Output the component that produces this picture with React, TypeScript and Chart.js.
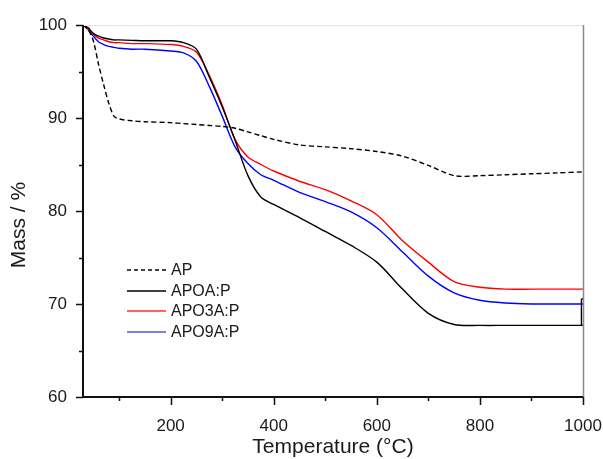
import React, { useEffect, useRef } from "react";
import { Chart, registerables } from "chart.js";

Chart.register(...registerables);

const temps = [30, 40, 50, 60, 70, 80, 90, 100, 125, 150, 200, 225, 250, 275, 300, 325, 350, 375, 400, 450, 500, 550, 600, 650, 700, 750, 800, 850, 900, 950, 1000];

const apValues = [100, 99.5, 98.3, 95.8, 93.6, 91.6, 90.2, 89.9, 89.7, 89.6, 89.5, 89.4, 89.3, 89.2, 89.1, 88.9, 88.5, 88.1, 87.7, 87.1, 86.9, 86.7, 86.4, 85.9, 84.9, 83.8, 83.8, 83.9, 84.0, 84.1, 84.2];
const apoaValues = [100, 99.7, 99.1, 98.8, 98.6, 98.5, 98.4, 98.4, 98.35, 98.3, 98.3, 98.1, 97.4, 94.4, 91.2, 87.6, 83.8, 81.5, 80.7, 79.3, 77.8, 76.3, 74.5, 71.6, 69.0, 67.8, 67.7, 67.7, 67.7, 67.7, 67.7];
const apo3aValues = [100, 99.6, 99.0, 98.6, 98.4, 98.2, 98.1, 98.1, 98.0, 98.0, 97.9, 97.7, 97.1, 94.6, 91.4, 87.7, 85.8, 85.0, 84.3, 83.2, 82.3, 81.1, 79.6, 76.8, 74.5, 72.4, 71.8, 71.6, 71.6, 71.6, 71.6];
const apo9aValues = [100, 99.5, 98.8, 98.2, 97.9, 97.7, 97.6, 97.5, 97.4, 97.4, 97.2, 97.0, 96.1, 93.4, 90.2, 86.9, 85.1, 83.9, 83.3, 82.0, 81.0, 79.9, 78.2, 75.6, 73.0, 71.2, 70.4, 70.1, 70.0, 70.0, 70.0];

// small artefact at the very end of the APOA:P curve
const apoaEndTemps = [997, 997, 1000];
const apoaEndValues = [67.7, 70.5, 70.6];

const seriesLabels = ["AP", "APOA:P", "APO3A:P", "APO9A:P"];
const seriesColors = ["#000000", "#000000", "#ff0000", "#0000ff"];
const legendColors = ["#000000", "#000000", "#ff3030", "#5555dd"];

const xMajorTicks = [200, 400, 600, 800, 1000];
const xMinorTicks = [100, 300, 500, 700, 900];
const yMajorTicks = [60, 70, 80, 90, 100];
const yMinorTicks = [65, 75, 85, 95];

const FONT = '"Liberation Sans", Arial, sans-serif';

function pts(xs: number[], ys: number[]) {
  return xs.map((x, i) => ({ x, y: ys[i] }));
}

const decorPlugin = {
  id: "decor",
  afterDatasetsDraw(chart: any) {
    const { ctx, chartArea } = chart;
    const xs = chart.scales.x;
    const ys = chart.scales.y;
    const { left, right, top, bottom } = chartArea;
    ctx.save();
    ctx.strokeStyle = "#e2e2e2";
    ctx.lineWidth = 1;
    ctx.beginPath();
    ctx.moveTo(left, top + 0.5);
    ctx.lineTo(right, top + 0.5);
    ctx.stroke();
    ctx.strokeStyle = "#8a8a8a";
    ctx.lineWidth = 1.5;
    ctx.beginPath();
    ctx.moveTo(right + 0.5, top);
    ctx.lineTo(right + 0.5, bottom);
    ctx.stroke();
    ctx.strokeStyle = "#111";
    ctx.lineWidth = 2;
    ctx.beginPath();
    ctx.moveTo(left, top);
    ctx.lineTo(left, bottom);
    ctx.lineTo(right, bottom);
    ctx.stroke();
    ctx.lineWidth = 1.5;
    ctx.beginPath();
    xMajorTicks.forEach((v) => {
      const p = Math.round(xs.getPixelForValue(v)) + 0.5;
      ctx.moveTo(p, bottom);
      ctx.lineTo(p, bottom + 8);
    });
    xMinorTicks.forEach((v) => {
      const p = Math.round(xs.getPixelForValue(v)) + 0.5;
      ctx.moveTo(p, bottom);
      ctx.lineTo(p, bottom + 4);
    });
    yMajorTicks.forEach((v) => {
      const p = Math.round(ys.getPixelForValue(v)) + 0.5;
      ctx.moveTo(left, p);
      ctx.lineTo(left - 7, p);
    });
    yMinorTicks.forEach((v) => {
      const p = Math.round(ys.getPixelForValue(v)) + 0.5;
      ctx.moveTo(left, p);
      ctx.lineTo(left - 4, p);
    });
    ctx.stroke();

    ctx.fillStyle = "#1a1a1a";
    ctx.font = `21px ${FONT}`;
    ctx.textAlign = "center";
    ctx.textBaseline = "middle";
    ctx.fillText("Temperature (°C)", 333, 447);
    ctx.save();
    ctx.translate(19, 225);
    ctx.rotate(-Math.PI / 2);
    ctx.fillText("Mass / %", 0, 0);
    ctx.restore();

    const lx0 = 127;
    const lx1 = 166;
    const tx = 171;
    const rowY = [270, 291, 311, 332];
    ctx.font = `16px ${FONT}`;
    ctx.textAlign = "left";
    seriesLabels.forEach((lab, i) => {
      ctx.strokeStyle = legendColors[i];
      ctx.lineWidth = 1.5;
      ctx.setLineDash(i === 0 ? [4, 3] : []);
      ctx.beginPath();
      ctx.moveTo(lx0, rowY[i]);
      ctx.lineTo(lx1, rowY[i]);
      ctx.stroke();
      ctx.setLineDash([]);
      ctx.fillStyle = "#1a1a1a";
      ctx.fillText(lab, tx, rowY[i] + 1);
    });
    ctx.restore();
  },
};

export default function App() {
  const ref = useRef<HTMLCanvasElement | null>(null);
  useEffect(() => {
    if (!ref.current) return;
    const chart = new Chart(ref.current, {
      type: "line",
      data: {
        datasets: [
          {
            label: seriesLabels[0],
            data: pts(temps, apValues),
            borderColor: seriesColors[0],
            borderWidth: 1.4,
            borderDash: [5, 3],
            pointRadius: 0,
            tension: 0.3,
          },
          {
            label: seriesLabels[1],
            data: pts(temps, apoaValues),
            borderColor: seriesColors[1],
            borderWidth: 1.4,
            pointRadius: 0,
            tension: 0.3,
          },
          {
            label: seriesLabels[2],
            data: pts(temps, apo3aValues),
            borderColor: seriesColors[2],
            borderWidth: 1.4,
            pointRadius: 0,
            tension: 0.3,
          },
          {
            label: seriesLabels[3],
            data: pts(temps, apo9aValues),
            borderColor: seriesColors[3],
            borderWidth: 1.4,
            pointRadius: 0,
            tension: 0.3,
          },
          {
            label: seriesLabels[1] + " end",
            data: pts(apoaEndTemps, apoaEndValues),
            borderColor: seriesColors[1],
            borderWidth: 1.4,
            pointRadius: 0,
            tension: 0,
            clip: 4,
          },
        ],
      },
      options: {
        animation: false,
        responsive: false,
        devicePixelRatio: 1,
        layout: { padding: { left: 0, right: 20, top: 25, bottom: 0 } },
        plugins: { legend: { display: false }, tooltip: { enabled: false } },
        scales: {
          x: {
            type: "linear",
            min: 30,
            max: 1000,
            border: { display: false },
            grid: { display: false },
            afterBuildTicks: (s: any) => {
              s.ticks = xMajorTicks.map((v) => ({ value: v }));
            },
            afterFit: (s: any) => {
              s.height = 62;
              s.paddingLeft = 0;
              s.paddingRight = 0;
            },
            ticks: {
              padding: 11,
              maxRotation: 0,
              autoSkip: false,
              color: "#1a1a1a",
              font: { family: FONT, size: 17 },
              callback: (v: any) => String(v),
            },
          },
          y: {
            type: "linear",
            min: 60,
            max: 100,
            border: { display: false },
            grid: { display: false },
            afterBuildTicks: (s: any) => {
              s.ticks = yMajorTicks.map((v) => ({ value: v }));
            },
            afterFit: (s: any) => {
              s.width = 83;
              s.paddingTop = 0;
              s.paddingBottom = 0;
            },
            ticks: {
              padding: 8,
              autoSkip: false,
              color: "#1a1a1a",
              font: { family: FONT, size: 17 },
              callback: (v: any) => String(v),
            },
          },
        },
      },
      plugins: [decorPlugin],
    });
    return () => chart.destroy();
  }, []);
  return (
    <div style={{ position: "fixed", left: 0, top: 0, width: 603, height: 459, background: "#fff" }}>
      <canvas ref={ref} width={603} height={459} style={{ width: 603, height: 459 }} />
    </div>
  );
}
